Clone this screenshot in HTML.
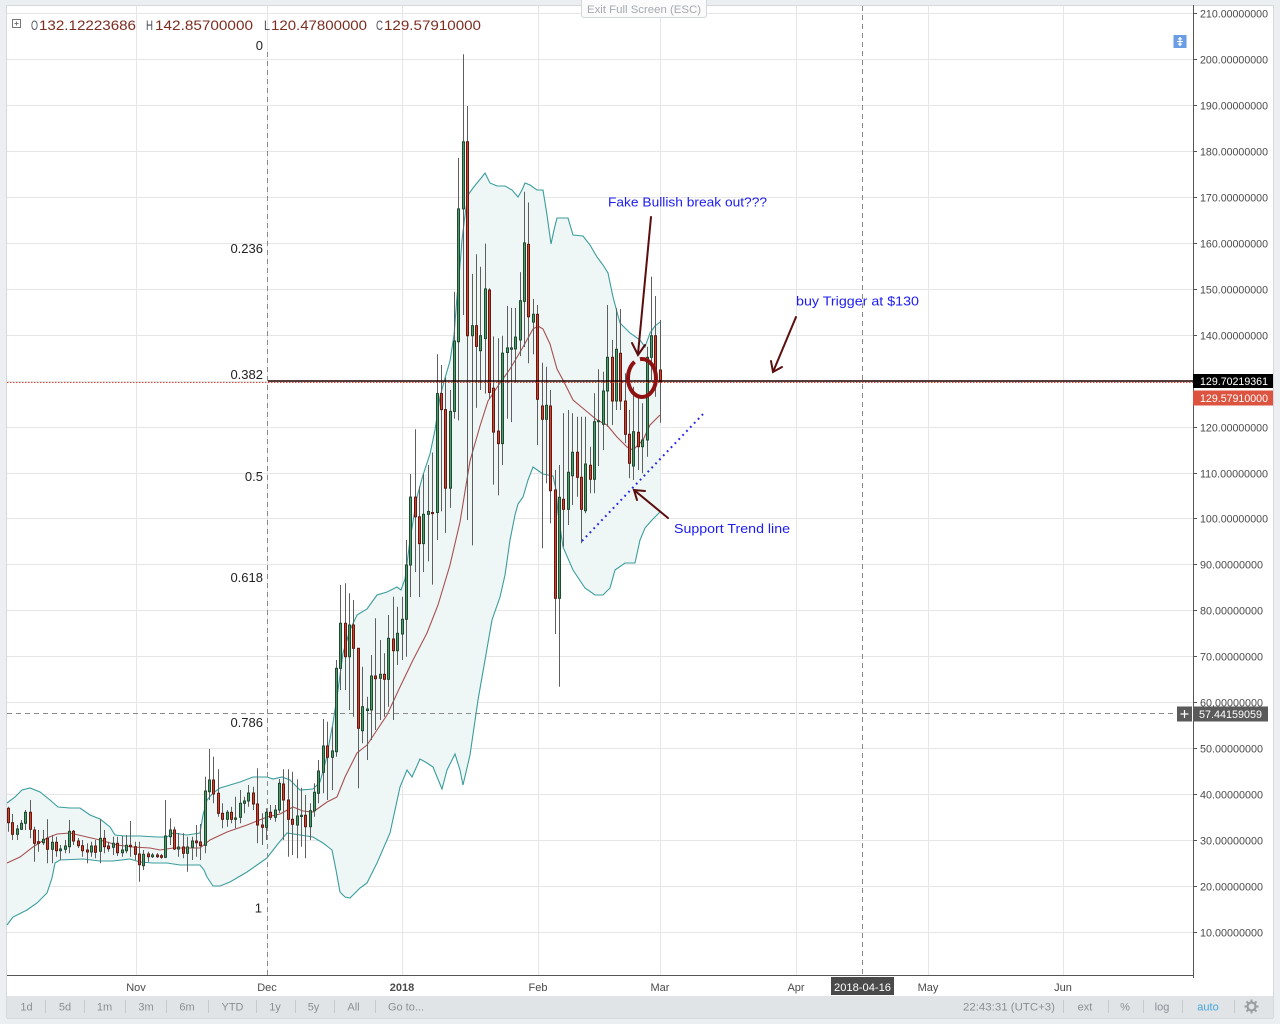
<!DOCTYPE html>
<html><head><meta charset="utf-8"><title>chart</title>
<style>
html,body{margin:0;padding:0;width:1280px;height:1024px;overflow:hidden;background:#eceff2}
svg{display:block;font-family:"Liberation Sans",Arial,sans-serif}
</style></head><body>
<svg id="s" xmlns="http://www.w3.org/2000/svg" width="1280" height="1024" viewBox="0 0 1280 1024">
<rect x="0" y="0" width="1280" height="1024" fill="#eceff2"/>
<rect x="7" y="5.5" width="1266" height="991" fill="#ffffff"/>
<line x1="7" y1="5.5" x2="1273" y2="5.5" stroke="#d5d9dd"/>
<line x1="6.5" y1="5" x2="6.5" y2="1018" stroke="#d5d9dd"/>
<line x1="1273.5" y1="5" x2="1273.5" y2="1018" stroke="#d5d9dd"/>
<rect x="7" y="996" width="1266" height="22" fill="#e1e4e7"/>
<line x1="7" y1="1018.5" x2="1273" y2="1018.5" stroke="#d5d9dd"/>

<g id="grid"></g>
<g id="band"></g>

<!-- dashed lines -->
<line x1="267.5" y1="52" x2="267.5" y2="976" stroke="#8a8a8a" stroke-dasharray="5 4"/>
<line x1="862.5" y1="6" x2="862.5" y2="976" stroke="#8a8a8a" stroke-dasharray="5 4"/>
<line x1="7" y1="713.5" x2="1176" y2="713.5" stroke="#8a8a8a" stroke-dasharray="5 4"/>

<g id="candles"></g>

<!-- price lines -->
<line x1="268" y1="381" x2="1193" y2="381" stroke="#220000" stroke-width="1.5"/>
<line x1="7" y1="382.5" x2="1193" y2="382.5" stroke="#e0402e" stroke-dasharray="1.5 1.5"/>

<!-- fib labels -->
<g font-size="13" fill="#222" text-anchor="end">
<text x="263" y="50">0</text>
<text x="263" y="253">0.236</text>
<text x="263" y="379">0.382</text>
<text x="263" y="481">0.5</text>
<text x="263" y="582">0.618</text>
<text x="263" y="727">0.786</text>
<text x="262" y="912.5">1</text>
</g>

<!-- header -->
<rect x="12.5" y="19.5" width="8" height="8" fill="none" stroke="#777"/>
<line x1="14.5" y1="23.5" x2="18.5" y2="23.5" stroke="#777"/>
<line x1="16.5" y1="21.5" x2="16.5" y2="25.5" stroke="#777"/>
<g font-size="13.5">
<text x="31" y="30" fill="#4a4f5a" textLength="7" lengthAdjust="spacingAndGlyphs">O</text>
<text x="39" y="30" fill="#7b2d20" textLength="97" lengthAdjust="spacingAndGlyphs">132.12223686</text>
<text x="146" y="30" fill="#4a4f5a" textLength="7" lengthAdjust="spacingAndGlyphs">H</text>
<text x="155" y="30" fill="#7b2d20" textLength="98" lengthAdjust="spacingAndGlyphs">142.85700000</text>
<text x="264" y="30" fill="#4a4f5a" textLength="6" lengthAdjust="spacingAndGlyphs">L</text>
<text x="271" y="30" fill="#7b2d20" textLength="96" lengthAdjust="spacingAndGlyphs">120.47800000</text>
<text x="376" y="30" fill="#4a4f5a" textLength="7" lengthAdjust="spacingAndGlyphs">C</text>
<text x="384" y="30" fill="#7b2d20" textLength="97" lengthAdjust="spacingAndGlyphs">129.57910000</text>
</g>

<!-- exit full screen -->
<path d="M581.5 0 V14.5 Q581.5 17.5 584.5 17.5 H703.5 Q706.5 17.5 706.5 14.5 V0" fill="#fbfbfc" stroke="#d3d7db"/>
<text x="644" y="13" font-size="11" fill="#a5a9ae" text-anchor="middle" textLength="114" lengthAdjust="spacingAndGlyphs">Exit Full Screen (ESC)</text>

<!-- blue icon -->
<rect x="1173.5" y="35" width="13" height="13" fill="#6a9de4"/>
<line x1="1180" y1="37.5" x2="1180" y2="45.5" stroke="#fff" stroke-width="1.2"/>
<path d="M1177.5 39.5 L1180 36.8 L1182.5 39.5Z M1177.5 43.5 L1180 46.2 L1182.5 43.5Z" fill="#fff"/>
<line x1="1177" y1="41.5" x2="1183" y2="41.5" stroke="#fff"/>

<!-- annotations -->
<g fill="#1c1cf2" font-size="13">
<text x="608" y="206.5" textLength="159" lengthAdjust="spacingAndGlyphs">Fake Bullish break out???</text>
<text x="796" y="305.5" textLength="123" lengthAdjust="spacingAndGlyphs">buy Trigger at $130</text>
<text x="674" y="533" textLength="116" lengthAdjust="spacingAndGlyphs">Support Trend line</text>
</g>
<g stroke="#5a0e0e" stroke-width="2" fill="none" stroke-linecap="round">
<line x1="651" y1="217" x2="638" y2="354"/>
<polyline points="632,343 638,355 645,345"/>
<line x1="796" y1="317" x2="773" y2="372"/>
<polyline points="771,361 773,372 782,367"/>
<line x1="668" y1="518" x2="634" y2="490"/>
<polyline points="645,491 634,490 637,500"/>
</g>
<ellipse cx="642" cy="378" rx="14" ry="19" fill="none" stroke="#8e1212" stroke-width="4" stroke-dasharray="70 6 40 0"/>
<line x1="582" y1="541" x2="704" y2="413" stroke="#2222ee" stroke-width="2" stroke-dasharray="1.8 3.8"/>

<!-- axes -->
<line x1="1193.5" y1="5" x2="1193.5" y2="978" stroke="#555"/>
<line x1="7" y1="975.5" x2="1194" y2="975.5" stroke="#555"/>

<g id="axis"></g>

<!-- price tags -->
<rect x="1193" y="374" width="80" height="14" fill="#000"/>
<text x="1200" y="385" font-size="11" fill="#fff" textLength="68" lengthAdjust="spacingAndGlyphs">129.70219361</text>
<rect x="1193" y="390.5" width="80" height="15" fill="#dc5440"/>
<text x="1200" y="402" font-size="11" fill="#fff" textLength="68" lengthAdjust="spacingAndGlyphs">129.57910000</text>

<rect x="1177" y="706.5" width="15" height="15" fill="#5a5a5a"/>
<path d="M1180.5 714 H1188.5 M1184.5 710 V718" stroke="#fff" stroke-width="1.2"/>
<rect x="1193" y="706.5" width="75" height="15" fill="#5a5a5a"/>
<text x="1199" y="718" font-size="11" fill="#fff" textLength="63" lengthAdjust="spacingAndGlyphs">57.44159059</text>

<!-- time axis -->
<g font-size="11" fill="#4a4a4a" text-anchor="middle">
<text x="136" y="991">Nov</text>
<text x="267" y="991">Dec</text>
<text x="402" y="991" font-weight="bold">2018</text>
<text x="538" y="991">Feb</text>
<text x="660" y="991">Mar</text>
<text x="796" y="991">Apr</text>
<text x="928" y="991">May</text>
<text x="1063" y="991">Jun</text>
</g>
<rect x="831" y="977" width="63" height="18" fill="#4a4a4a"/>
<text x="862.5" y="991" font-size="11" fill="#fff" text-anchor="middle" textLength="57" lengthAdjust="spacingAndGlyphs">2018-04-16</text>

<!-- toolbar -->
<g font-size="11" fill="#8a8f94" text-anchor="middle">
<text x="26.5" y="1010.5">1d</text>
<text x="65" y="1010.5">5d</text>
<text x="104.5" y="1010.5">1m</text>
<text x="146" y="1010.5">3m</text>
<text x="187" y="1010.5">6m</text>
<text x="232.5" y="1010.5">YTD</text>
<text x="275" y="1010.5">1y</text>
<text x="313.5" y="1010.5">5y</text>
<text x="353.5" y="1010.5">All</text>
<text x="406" y="1010.5">Go to...</text>
<text x="1009" y="1010.5" textLength="92" lengthAdjust="spacingAndGlyphs">22:43:31 (UTC+3)</text>
<text x="1085" y="1010.5">ext</text>
<text x="1125" y="1010.5">%</text>
<text x="1162" y="1010.5">log</text>
<text x="1208" y="1010.5" fill="#45a6dc">auto</text>
</g>
<g stroke="#c6cacf">
<line x1="45.5" y1="1000" x2="45.5" y2="1013"/>
<line x1="84.5" y1="1000" x2="84.5" y2="1013"/>
<line x1="125.5" y1="1000" x2="125.5" y2="1013"/>
<line x1="166.5" y1="1000" x2="166.5" y2="1013"/>
<line x1="208.5" y1="1000" x2="208.5" y2="1013"/>
<line x1="256.5" y1="1000" x2="256.5" y2="1013"/>
<line x1="295.5" y1="1000" x2="295.5" y2="1013"/>
<line x1="334.5" y1="1000" x2="334.5" y2="1013"/>
<line x1="375.5" y1="1000" x2="375.5" y2="1013"/>
<line x1="1063.5" y1="1000" x2="1063.5" y2="1013"/>
<line x1="1108.5" y1="1000" x2="1108.5" y2="1013"/>
<line x1="1143.5" y1="1000" x2="1143.5" y2="1013"/>
<line x1="1182.5" y1="1000" x2="1182.5" y2="1013"/>
<line x1="1234.5" y1="1000" x2="1234.5" y2="1013"/>
</g>
<g transform="translate(1251.5,1006.5)" fill="none" stroke="#9a9ea3">
<circle r="4" stroke-width="2.2"/>
<path d="M0 -7 V-4.5 M0 4.5 V7 M-7 0 H-4.5 M4.5 0 H7 M-5 -5 L-3.2 -3.2 M5 5 L3.2 3.2 M-5 5 L-3.2 3.2 M5 -5 L3.2 -3.2" stroke-width="2"/>
</g>
</svg>
<script>
(function(){
var D="1 r 808.3 822.7 806.7 831.7|2 r 822.7 834.3 814 840|3 g 829 834.3 825 840|4 g 823.3 829.3 820 830|5 g 812.3 823.3 810 830|6 r 812.3 829.3 800 838.3|7 r 830 843.3 826.7 861.7|8 r 841.7 843.3 830 851.7|9 g 839.3 842.7 830 845|10 r 838.3 849.3 819.3 863.3|11 g 842.3 849.3 835 863.3|12 r 842.3 850.7 836.7 856.7|13 g 849 850.7 845 860|14 g 846 849.3 840 853.3|15 g 831.3 846.7 820 853.3|16 r 831.3 841 830 845|17 r 841 845.7 838 848|18 r 845.7 850.7 840 856.7|19 r 850 852 843.3 863.3|20 g 846 852 841.7 856.7|21 r 846 852.3 840 858.3|22 g 838.3 851.3 819.3 863.3|23 r 838.3 846.7 830 853.3|24 r 846 848.7 841.7 851.7|25 g 843.3 847.3 836.7 855|26 r 843.3 852.7 836.7 856|27 g 850 852.7 836 856.7|28 g 845.3 850.7 835 853.3|29 r 845.3 846.7 821 856.7|30 r 846.7 854.3 841.7 860|31 r 854 864.7 841.7 881.7|32 g 854.3 865.7 850 870|33 r 854 856.7 851.7 861.7|34 g 855 856.7 853 858|35 r 855 856.7 853 858|36 r 855.7 857.3 854 858.7|37 g 836 857.3 800 858.3|38 g 830 836.7 818.3 845|39 r 830 849 826.7 850|40 g 847 849 833 856.7|41 r 847 853.3 833.3 858.3|42 g 847 853.3 836.7 871.7|43 g 841 847.3 836.7 860|44 r 841 842.7 825 856.7|45 r 842 845.7 824 860|46 g 791 845.3 776.7 853.3|47 g 780 791.7 749 800|48 r 780 794 756.7 803.3|49 r 793.3 813.3 769.3 816.7|50 r 813.3 819.3 803.3 828.3|51 g 812.3 819.3 810 826.7|52 r 812.3 819.3 806.7 823.3|53 g 818 819.3 796.7 828.3|54 g 803.3 817.3 790 823.3|55 g 801 803.3 796.7 813.3|56 g 793 801 785 806.7|57 r 793 804 786.7 810|58 r 804 825 768.3 843.3|59 r 825 827.3 813.3 845|60 g 812.3 827.3 808.3 840|61 r 812.3 817.3 805 820|62 g 810 817.3 805 821.7|63 g 783.3 810 779 813|64 r 784 800 769.3 840|65 r 800 819.3 769.3 856.7|66 r 819.3 824.3 771.7 855|67 g 816 825 779.3 858.3|68 g 815.3 816.5 787.7 846.7|69 r 815.3 826.7 795 858.3|70 g 810.7 826.7 803.3 840|71 g 792.3 810.7 783.3 816.7|72 g 771 793.3 760 803.3|73 g 746 772.3 719 793.3|74 r 746 757.3 721.7 800|75 g 751 757.3 726.7 790|76 g 668.3 751.7 660 756.7|77 g 623.3 668.3 585 690|78 r 623.3 656.7 583.3 690|79 g 625 656.7 593.3 710|80 r 625 648.3 600 716.7|81 r 648.3 728.3 648 788.3|82 g 706.7 730.7 666.7 743.3|83 g 709 710.5 696.7 760|84 g 676 710 655 740|85 r 676 678.7 618.3 730|86 g 674.3 678.3 640 720|87 r 674.3 679.3 653.3 716.7|88 g 638.3 679.3 615 706.7|89 r 639 650.7 596.7 720|90 g 633.3 650.7 606.7 665|91 g 619.3 634 596.7 660|92 g 565 619.3 540 656.7|93 g 497.1 565 474 597|94 r 497.1 516.8 429.3 572|95 r 516.8 543.6 486.4 597|96 g 514.3 543.6 474 572|97 g 511.4 514.3 465 561.4|98 r 512.5 513.6 452.5 584.6|99 g 393.6 512.5 354.3 540|100 r 393.6 409.6 365 511.4|101 r 409.6 488.2 377.5 532.9|102 g 411.4 488.2 390 507.9|103 g 341 411.4 291.8 418.6|104 g 208.9 341.8 157.9 420.4|105 g 141.8 208.9 54.3 315|106 r 141.8 335.7 106 520|107 g 325.7 335.7 273.9 545.4|108 r 325.7 346.4 254.3 407.9|109 g 335.7 350.7 266.8 390|110 g 288.9 338.6 243.6 393.6|111 r 290 392.5 288.2 398.9|112 r 388.2 432.1 336.4 484.6|113 r 431.1 443.6 338.2 495.4|114 g 353.2 443.6 335.7 465|115 g 347.9 352.5 306 418.6|116 g 347.9 349.3 307.9 422.1|117 g 337.1 348.9 307.9 382.9|118 g 300.7 340 272.1 356.1|119 g 242.9 301.4 191.8 347.1|120 r 244.3 316.8 202.5 363.2|121 g 314.3 322.1 298.9 354.3|122 r 314.3 399.3 305 445|123 r 406 419.3 362.7 548.3|124 g 405.3 419.3 366.7 483.3|125 r 406 490.7 390 523.3|126 r 490 598.3 470 634|127 g 497.3 598.3 465 686.7|128 r 499.3 509.3 413.3 546.7|129 g 472.3 509.3 410 525|130 g 452.3 475.7 413.3 505|131 r 452.3 477.3 416.7 496.7|132 r 477.3 509.3 416.7 543.3|133 g 464 510.7 416.7 513.3|134 r 465.3 479.3 446.7 493.3|135 g 421.7 479.3 393.3 493.3|136 g 420.7 421.7 369.3 466|137 g 391 424.3 371.7 450|138 g 357.3 391 305 426.7|139 r 357.3 401 340 425|140 g 349.3 401 308.3 410|141 r 353.3 401 309 410|142 r 401 434.3 373.3 443.3|143 r 434.3 463.3 410 478.3|144 g 431.7 466 386.7 480|145 r 432.3 446.7 396.7 470|146 g 440 446.7 403.3 473.3|147 g 357.3 440 346.7 456.7|148 g 335.7 357.3 276.7 380|149 r 335.7 380 296 396.7|150 r 370 381.7 320 422.7";
var out='';
var rows=D.split('|');
for(var i=0;i<rows.length;i++){
 var p=rows[i].split(' ');
 var n=+p[0],c=p[1],bt=+p[2],bb=+p[3],wt=+p[4],wb=+p[5];
 var xc=Math.floor(8.3+(n-1)*4.375)+0.5;
 var fill=c=='g'?'#4d9a6b':'#cc4430', st=c=='g'?'#1f4a30':'#64180f';
 out+='<line x1="'+xc+'" y1="'+wt+'" x2="'+xc+'" y2="'+wb+'" stroke="#5f5f5f" stroke-width="1"/>';
 var h=Math.max(bb-bt,1);
 out+='<rect x="'+(xc-1)+'" y="'+bt+'" width="2" height="'+h.toFixed(1)+'" fill="'+fill+'" stroke="'+st+'" stroke-width="1"/>';
}
document.getElementById('candles').innerHTML=out;

var U=[7,803,15,797,22,790,30,788,40,792,50,800,58,807,70,808,80,808,90,815,100,819,110,827,115,835,125,836,140,836,157,837,167,837,173,833,187,835,200,833,203,815,207,800,213,793,220,788,240,782,253,777,267,777,273,779,282,777,290,780,300,790,313,789,320,782,326,760,333,723,338,690,343,653,350,630,357,615,367,609,377,595,387,592,397,587,401,590,405,579,410,540,417,497,423,475,430,454,435,430,440,397,445,378,450,361,454,335,457,297,460,265,462,240,465,215,468,195,473,188,477,183,482,177,485,173,490,183,497,186,505,186,512,190,518,197,522,190,525,183,530,185,537,190,543,190,547,215,551,244,554,230,557,218,568,218,573,235,583,236,590,245,597,257,603,265,608,273,613,297,617,312,620,323,630,333,640,340,645,347,650,333,655,326,660,322];
var L=[7,925,13,917,27,910,37,903,47,893,52,878,55,863,60,860,83,859,100,861,113,861,130,859,140,862,153,863,167,863,180,865,200,865,204,870,207,877,213,886,220,886,230,882,247,872,257,865,267,858,277,845,287,833,300,835,313,837,323,843,332,850,336,870,340,892,345,897,350,898,360,888,367,883,377,863,390,833,395,810,400,787,407,770,412,777,420,759,427,763,433,767,442,789,447,770,455,754,460,770,463,785,470,755,478,700,485,660,492,620,500,597,505,575,510,540,515,515,518,504,523,497,528,480,533,467,543,474,553,476,556,490,558,513,563,547,573,570,585,588,595,595,603,595,610,588,615,570,625,563,635,563,640,540,645,528,652,520,660,512];
var M=[7,863,20,857,33,847,47,838,57,834,70,833,87,837,100,840,117,845,133,847,150,848,160,850,173,848,200,848,210,840,227,832,247,825,267,817,280,814,293,807,303,811,313,812,327,802,337,797,345,777,357,753,367,745,377,730,387,715,400,687,413,660,427,633,438,605,450,565,460,522,470,461,480,426,488,401,500,383,510,369,523,347,533,329,538,326,543,329,550,344,557,369,563,380,573,400,585,410,597,420,607,425,617,437,627,447,633,450,643,440,650,425,660,415];
function pts(a){var s=[];for(var i=0;i<a.length;i+=2)s.push(a[i]+','+a[i+1]);return s;}
var up=pts(U), lo=pts(L), mi=pts(M);
var b='<polygon points="'+up.join(' ')+' '+lo.slice().reverse().join(' ')+'" fill="#eff6f6"/>';
b+='<polyline points="'+up.join(' ')+'" fill="none" stroke="#3a9d9d" stroke-width="1.1"/>';
b+='<polyline points="'+lo.join(' ')+'" fill="none" stroke="#3a9d9d" stroke-width="1.1"/>';
b+='<polyline points="'+mi.join(' ')+'" fill="none" stroke="#a65050" stroke-width="1.1"/>';
document.getElementById('band').innerHTML=b;

var g='', ax='';
var VX=[136.5,267.5,402.5,538.5,660.5,796.5,928.5,1063.5];
for(var k=0;k<VX.length;k++){g+='<line x1="'+VX[k]+'" y1="6" x2="'+VX[k]+'" y2="975" stroke="#e6e6e6"/>';}
for(var pr=10;pr<=210;pr+=10){
 var y=Math.round(13+(210-pr)*4.595)+0.5;
 g+='<line x1="7" y1="'+y+'" x2="1193" y2="'+y+'" stroke="#e6e6e6"/>';
 ax+='<line x1="1193" y1="'+y+'" x2="1197" y2="'+y+'" stroke="#555"/>';
 var lab=pr+'.00000000';
 var w=pr>=100?68:63;
 ax+='<text x="1200" y="'+(y+3.8)+'" font-size="11" fill="#4a4a4a" textLength="'+w+'" lengthAdjust="spacingAndGlyphs">'+lab+'</text>';
}
document.getElementById('grid').innerHTML=g;
document.getElementById('axis').innerHTML=ax;
})();
</script>
</body></html>
